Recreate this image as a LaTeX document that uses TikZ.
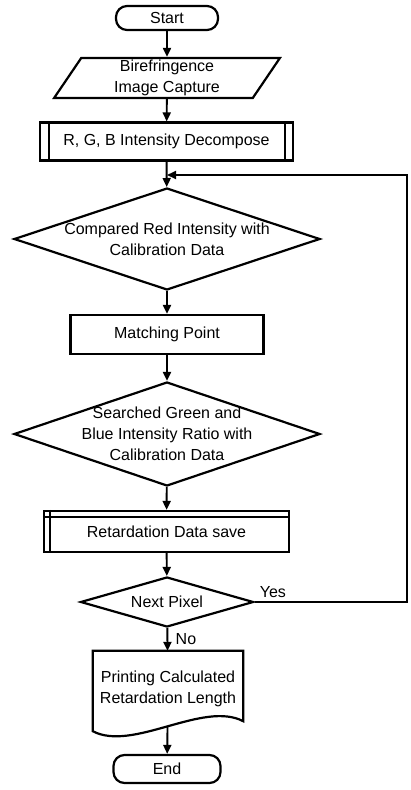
\documentclass[tikz,border=0pt]{standalone}
\usepackage{fontspec}
\setmainfont{Liberation Sans}
\usetikzlibrary{arrows.meta}
\usetikzlibrary{shapes.geometric}

\tikzset{
  every node/.style={font=\fontsize{16pt}{21pt}\selectfont, align=center},
  box/.style={draw, line width=2.2pt, rectangle, inner sep=0pt},
  terminal/.style={box, rounded corners=11pt},
  io/.style={draw, line width=2.2pt, trapezium, trapezium left angle=65, trapezium right angle=115, trapezium stretches=true, inner sep=0pt},
  decision/.style={draw, line width=2.2pt, diamond, inner sep=0pt},
  wire/.style={line width=2.2pt},
  thinwire/.style={line width=1.4pt},
  flow/.style={line width=1.9pt, -{Triangle[length=9pt,width=8pt]}},
}

\begin{document}
\begin{tikzpicture}
\useasboundingbox (0,0) rectangle (410pt,-790pt);

\node[terminal, minimum width=102pt, minimum height=24pt] (start) at (167pt,-18pt) {Start};
\node[io, minimum width=226pt, minimum height=40pt] (capture) at (167pt,-78pt) {Birefringence\\Image Capture};
\node[box, minimum width=253pt, minimum height=38pt] (rgb) at (166.5pt,-141.5pt) {R, G, B Intensity Decompose};
\node[decision, minimum width=306pt, minimum height=102pt, label={center:Compared Red Intensity with\\Calibration Data}] (cmpred) at (167pt,-239pt) {};
\node[box, minimum width=193pt, minimum height=39pt] (match) at (167pt,-334.5pt) {Matching Point};
\node[decision, minimum width=306pt, minimum height=104pt, label={center:Searched Green and\\Blue Intensity Ratio with\\Calibration Data}] (search) at (167pt,-434pt) {};
\node[box, minimum width=245pt, minimum height=41pt] (save) at (166.5pt,-531.5pt) {Retardation Data save};
\node[decision, minimum width=173pt, minimum height=50pt, label={center:Next Pixel}] (next) at (167pt,-602pt) {};
\node[minimum width=150pt, minimum height=75pt] (print) at (168pt,-688.5pt) {Printing Calculated\\Retardation Length};
\node[terminal, minimum width=107pt, minimum height=28pt] (end) at (167pt,-769pt) {End};

% side bars of the sub-process boxes
\draw[thinwire] ([xshift=10pt]rgb.north west) -- ([xshift=10pt]rgb.south west);
\draw[thinwire] ([xshift=-9pt]rgb.north east) -- ([xshift=-9pt]rgb.south east);
\draw[thinwire] ([xshift=7pt]save.north west) -- ([xshift=7pt]save.south west);
\draw[thinwire] ([yshift=-7pt]save.north west) -- ([yshift=-7pt]save.north east);

% document outline with wavy bottom
\draw[wire] ([yshift=-5pt]print.south west) -- (print.north west) -- (print.north east) -- ([yshift=5pt]print.south east)
  .. controls +(-40pt,21pt) and +(40pt,-21pt) .. ([yshift=-5pt]print.south west) -- cycle;

\draw[flow] (start) -- (capture);
\draw[flow] (capture) -- (rgb);
\draw[flow] (rgb) -- (cmpred);
\draw[flow] (cmpred) -- (match);
\draw[flow] (match) -- (search);
\draw[flow] (search) -- (save);
\draw[flow] (save) -- (next);
\draw[flow] (next) -- node[right=4pt, pos=0.5] {No} (print);
\draw[flow] (print) -- (end);

\coordinate (loop) at (407pt,-602pt);
\coordinate (join) at (167pt,-175pt);
\draw[flow] (next.east) -- node[pos=0.12, above] {Yes} (loop) |- (join);
\end{tikzpicture}
\end{document}
